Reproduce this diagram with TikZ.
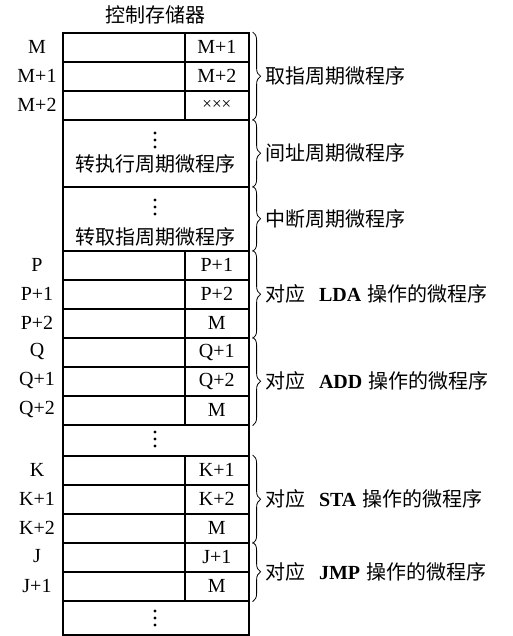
\documentclass[tikz,border=0pt]{standalone}
\usepackage{fontspec}
\setmainfont{Liberation Serif}
\newfontfamily\cjk{Noto Sans CJK SC}
\usetikzlibrary{decorations.pathreplacing, positioning}

\begin{document}
\begin{tikzpicture}[x=1pt, y=-1pt, font=\fontsize{20}{24}\selectfont,
        lc/.style={draw, line width=1.6pt, anchor=north west, minimum width=122pt,
            minimum height=29pt, inner sep=0pt},
        rc/.style={draw, line width=1.6pt, anchor=north west, minimum width=64pt,
            minimum height=29pt, inner sep=0pt},
        blk/.style={draw, line width=1.6pt, anchor=north west, minimum width=186pt, inner sep=0pt},
        brc/.style={decorate, decoration={brace, amplitude=8pt}, line width=0.8pt},
        lab/.style={right, xshift=11pt, inner sep=1pt}]
        \useasboundingbox (0,0) rectangle (512,636);
        \node (ttl) at (155,15) {\cjk 控制存储器};
        \foreach \n/\t/\a/\b in {m0/32/M/M+1, m1/61/M+1/M+2, m2/90/M+2/{\fontsize{17}{18}\selectfont ×××},
                p0/250/P/P+1, p1/279/P+1/P+2, p2/308/P+2/M, q0/337/Q/Q+1, q1/366/Q+1/Q+2, q2/395/Q+2/M,
                k0/455/K/K+1, k1/484/K+1/K+2, k2/513/K+2/M, j0/542/J/J+1, j1/571/J+1/M}{
            \node[lc] (l\n) at (62,\t) {};
            \node[rc] (\n) at (184,\t) {\b};
            \node (a\n) at (37,\t+14.5) {\a};
        }
        \node[blk, minimum height=67pt] (ind) at (62,119) {};
        \coordinate (indd) at (155,140);
        \node (indt) at (155,164) {\cjk 转执行周期微程序};
        \node[blk, minimum height=64pt] (itr) at (62,186) {};
        \coordinate (itrd) at (155,207);
        \node (itrt) at (155,237) {\cjk 转取指周期微程序};
        \node[blk, minimum height=31pt] (gp1) at (62,424) {};
        \coordinate (gp1d) at (155,439);
        \node[blk, minimum height=34pt] (gp2) at (62,600) {};
        \coordinate (gp2d) at (155,618);
        \foreach \c in {indd, itrd, gp1d, gp2d}
            \foreach \d in {-7,0,7}
                \fill ([yshift=\d pt]\c) circle (1.7pt);
        \draw[brc] ([xshift=3pt]m0.north east) -- node[lab] {\cjk 取指周期微程序} ([xshift=3pt]m2.south east);
        \draw[brc] ([xshift=3pt]ind.north east) -- node[lab] {\cjk 间址周期微程序} ([xshift=3pt]ind.south east);
        \draw[brc] ([xshift=3pt]itr.north east) -- node[lab] {\cjk 中断周期微程序} ([xshift=3pt]itr.south east);
        \draw[brc] ([xshift=3pt]p0.north east) -- node[lab] {{\cjk 对应}\hspace{0.7em}{\bfseries LDA}\hspace{0.3em}{\cjk 操作的微程序}} ([xshift=3pt]p2.south east);
        \draw[brc] ([xshift=3pt]q0.north east) -- node[lab] {{\cjk 对应}\hspace{0.7em}{\bfseries ADD}\hspace{0.3em}{\cjk 操作的微程序}} ([xshift=3pt]q2.south east);
        \draw[brc] ([xshift=3pt]k0.north east) -- node[lab] {{\cjk 对应}\hspace{0.7em}{\bfseries STA}\hspace{0.3em}{\cjk 操作的微程序}} ([xshift=3pt]k2.south east);
        \draw[brc] ([xshift=3pt]j0.north east) -- node[lab] {{\cjk 对应}\hspace{0.7em}{\bfseries JMP}\hspace{0.3em}{\cjk 操作的微程序}} ([xshift=3pt]j1.south east);
    \end{tikzpicture}
\end{document}
